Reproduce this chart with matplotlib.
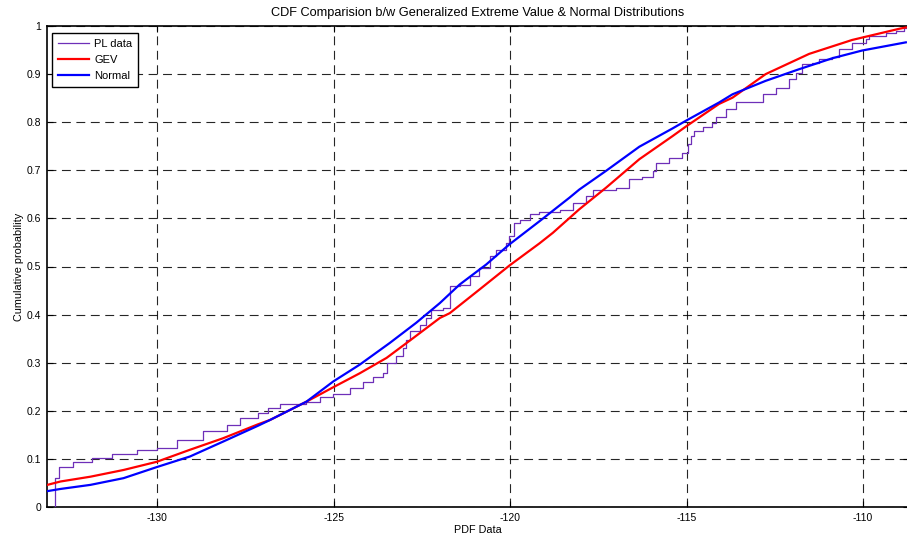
import matplotlib
matplotlib.use("Agg")
import matplotlib.pyplot as plt

plt.rcParams['font.family'] = ['Liberation Sans', 'DejaVu Sans']

# Empirical CDF of the path-loss data (step corners)
pl_x = [-132.88, -132.88, -132.79, -132.37, -131.85, -131.28, -130.57, -130.01,
        -129.44, -128.69, -128.03, -127.65, -127.14, -126.85, -126.52, -125.77,
        -125.39, -125.01, -124.54, -124.17, -123.88, -123.60, -123.50, -123.22,
        -123.03, -122.94, -122.85, -122.56, -122.37, -122.23, -121.90, -121.71,
        -121.43, -121.15, -120.87, -120.58, -120.39, -120.11, -120.02, -119.88,
        -119.73, -119.45, -119.17, -118.60, -118.23, -117.85, -117.66, -117.00,
        -116.62, -116.25, -115.96, -115.87, -115.49, -115.12, -114.97, -114.88,
        -114.79, -114.55, -114.27, -114.17, -113.89, -113.61, -112.85, -112.47,
        -112.10, -111.91, -111.72, -111.44, -111.25, -110.87, -110.68, -110.31,
        -109.93, -109.84, -109.36, -109.08, -108.84, -108.75]
pl_y = [0.0, 0.060, 0.084, 0.094, 0.101, 0.110, 0.119, 0.122,
        0.140, 0.157, 0.171, 0.185, 0.195, 0.206, 0.215, 0.219,
        0.229, 0.235, 0.247, 0.259, 0.270, 0.278, 0.299, 0.313,
        0.331, 0.348, 0.365, 0.379, 0.393, 0.410, 0.414, 0.459,
        0.4625, 0.480, 0.497, 0.521, 0.535, 0.549, 0.563, 0.591,
        0.596, 0.610, 0.613, 0.617, 0.632, 0.646, 0.660, 0.664,
        0.681, 0.687, 0.699, 0.716, 0.726, 0.737, 0.754, 0.771,
        0.782, 0.789, 0.799, 0.810, 0.827, 0.841, 0.858, 0.872,
        0.890, 0.903, 0.921, 0.924, 0.931, 0.935, 0.953, 0.965,
        0.973, 0.980, 0.985, 0.990, 0.995, 1.0]

# Fitted generalized extreme value CDF
gev_x = [-133.11, -132.74, -131.89, -130.95, -130.01, -129.07, -128.13, -127.14,
         -126.80, -125.77, -125.01, -124.26, -123.50, -122.75, -121.99, -121.71,
         -120.87, -120.02, -119.17, -118.79, -118.04, -117.28, -116.34, -115.40,
         -115.02, -114.08, -113.70, -112.76, -111.53, -110.31, -108.99, -108.79]
gev_y = [0.046, 0.053, 0.063, 0.077, 0.094, 0.119, 0.143, 0.172,
         0.181, 0.219, 0.249, 0.278, 0.310, 0.351, 0.393, 0.403,
         0.452, 0.502, 0.548, 0.570, 0.619, 0.664, 0.723, 0.771,
         0.791, 0.838, 0.851, 0.900, 0.942, 0.971, 0.994, 0.997]

# Fitted normal CDF
norm_x = [-133.11, -132.74, -131.89, -130.95, -130.01, -129.07, -128.13, -127.14,
          -126.80, -125.77, -125.01, -124.26, -123.41, -122.66, -121.99, -121.43,
          -120.68, -120.02, -119.17, -118.32, -118.04, -117.28, -116.34, -115.40,
          -115.02, -114.08, -113.70, -112.76, -111.82, -110.87, -110.03, -108.79]
norm_y = [0.033, 0.0375, 0.046, 0.060, 0.083, 0.105, 0.136, 0.169,
          0.181, 0.219, 0.261, 0.296, 0.341, 0.383, 0.424, 0.4625,
          0.504, 0.546, 0.594, 0.643, 0.660, 0.699, 0.749, 0.787,
          0.803, 0.841, 0.858, 0.886, 0.910, 0.933, 0.949, 0.966]

x_ticks = [-130, -125, -120, -115, -110]
y_ticks = [0, 0.1, 0.2, 0.3, 0.4, 0.5, 0.6, 0.7, 0.8, 0.9, 1]
y_tick_labels = ['0', '0.1', '0.2', '0.3', '0.4', '0.5', '0.6', '0.7', '0.8', '0.9', '1']

fig = plt.figure(figsize=(9.07, 5.42), dpi=100)
ax = fig.add_axes([47 / 907, 35 / 542, 862 / 907, 481 / 542])

ax.plot(pl_x, pl_y, drawstyle='steps-post', color='#6e2fb8', lw=0.9, label='PL data', zorder=3)
ax.plot(gev_x, gev_y, color='#ff0000', lw=1.6, label='GEV', zorder=4)
ax.plot(norm_x, norm_y, color='#0000ff', lw=1.6, label='Normal', zorder=5)

ax.set_xlim(-133.12, -108.70)
ax.set_ylim(0, 1)
ax.set_xticks(x_ticks)
ax.set_xticklabels([str(t) for t in x_ticks])
ax.set_yticks(y_ticks)
ax.set_yticklabels(y_tick_labels)

ax.grid(True, color='black', linestyle=(0, (8, 5)), linewidth=0.8, alpha=0.85)
ax.tick_params(direction='in', length=4, width=0.8, labelsize=7.5,
               top=True, right=True, pad=4)
for s in ax.spines.values():
    s.set_linewidth(1.2)

ax.set_title('CDF Comparision b/w Generalized Extreme Value & Normal Distributions',
             fontsize=9.2, pad=7)
ax.set_xlabel('PDF Data', fontsize=7.8, labelpad=2)
ax.set_ylabel('Cumulative probability', fontsize=7.8, labelpad=2)

leg = ax.legend(loc='upper left', bbox_to_anchor=(0.006, 0.985), borderaxespad=0,
                fontsize=8, fancybox=False, framealpha=1, edgecolor='black',
                handlelength=2.8, labelspacing=0.55, borderpad=0.5, handletextpad=0.5)
leg.get_frame().set_linewidth(1.0)

fig.savefig('out.png', dpi=100)
